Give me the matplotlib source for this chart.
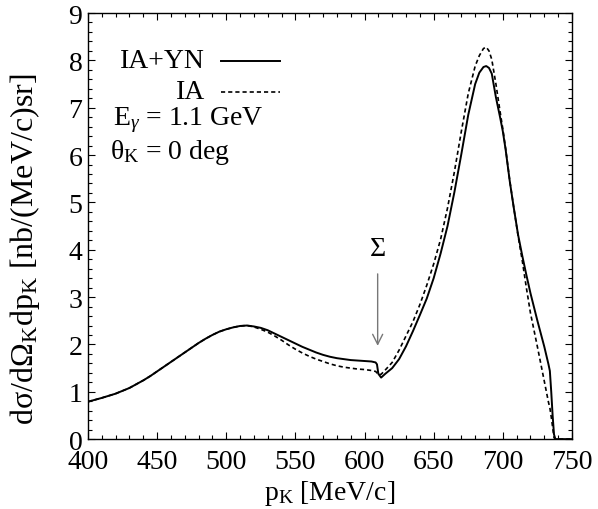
import matplotlib
matplotlib.use("Agg")
import matplotlib.pyplot as plt
from matplotlib.ticker import MultipleLocator
from matplotlib.lines import Line2D

# --------------------------------------------------------
# DATA
# --------------------------------------------------------
p_k = [400, 405, 410, 415, 420, 425, 430, 435, 440, 445, 450, 455, 460, 465,
       470, 475, 480, 485, 490, 495, 500, 505, 510, 515, 520, 525, 530, 535,
       540, 545, 550, 555, 560, 565, 570, 575, 580, 585, 590, 595, 600, 605,
       608, 609, 610, 612, 615, 620, 625, 630, 635, 640, 645, 650, 655, 660,
       665, 670, 675, 680, 683, 686, 688, 690, 692, 695, 698, 700, 702, 705,
       708, 711, 714, 717, 720, 725, 730, 733, 734, 735, 736, 737, 738, 750]

ia_yn = [0.79, 0.83, 0.87, 0.915, 0.96, 1.02, 1.08, 1.16, 1.24, 1.33, 1.43, 1.53, 1.63, 1.73,
         1.83, 1.93, 2.03, 2.12, 2.20, 2.27, 2.32, 2.36, 2.39, 2.40, 2.38, 2.35, 2.30, 2.23,
         2.16, 2.09, 2.02, 1.95, 1.89, 1.83, 1.78, 1.74, 1.71, 1.69, 1.67, 1.66, 1.65, 1.64,
         1.62, 1.58, 1.38, 1.30, 1.38, 1.50, 1.69, 1.96, 2.28, 2.62, 2.97, 3.40, 3.92, 4.50,
         5.22, 6.02, 6.85, 7.50, 7.74, 7.86, 7.88, 7.84, 7.72, 7.22, 6.80, 6.50, 6.12, 5.45,
         4.87, 4.32, 3.88, 3.47, 3.08, 2.50, 1.95, 1.58, 1.44, 1.00, 0.50, 0.10, 0.0, 0.0]

ia = [0.79, 0.83, 0.87, 0.915, 0.96, 1.02, 1.08, 1.16, 1.24, 1.33, 1.43, 1.53, 1.63, 1.73,
      1.83, 1.93, 2.03, 2.12, 2.20, 2.27, 2.32, 2.36, 2.39, 2.40, 2.37, 2.32, 2.26, 2.18,
      2.09, 1.99, 1.90, 1.82, 1.75, 1.69, 1.64, 1.59, 1.55, 1.52, 1.50, 1.48, 1.47, 1.45,
      1.43, 1.40, 1.36, 1.37, 1.46, 1.62, 1.88, 2.18, 2.48, 2.84, 3.25, 3.70, 4.22, 4.88,
      5.65, 6.50, 7.30, 7.88, 8.10, 8.25, 8.28, 8.20, 8.02, 7.50, 6.92, 6.55, 6.14, 5.46,
      4.87, 4.30, 3.78, 3.20, 2.66, 1.95, 1.22, 0.78, 0.66, 0.47, 0.25, 0.03, 0.0, 0.0]

legend_labels = ["IA+YN", "IA"]
info_lines = [r"E$_{\gamma}$ = 1.1 GeV", r"θ$_{\rm K}$ = 0 deg"]
sigma_x = 609.5

# --------------------------------------------------------
# STYLE
# --------------------------------------------------------
plt.rcParams["font.family"] = ["Liberation Serif", "DejaVu Serif"]
plt.rcParams["mathtext.fontset"] = "custom"
plt.rcParams["mathtext.rm"] = "Liberation Serif"
plt.rcParams["mathtext.it"] = "Liberation Serif:italic"
FS = 20
plt.rcParams["font.size"] = FS

fig = plt.figure(figsize=(5.98, 5.10), dpi=100)
ax = fig.add_axes([0.147, 0.137, 0.8095, 0.8355])

ax.plot(p_k, ia_yn, color="black", lw=1.4, solid_joinstyle="round")
ax.plot(p_k, ia, color="black", lw=1.2, dashes=(2.5, 1.8))

ax.set_xlim(400, 750)
ax.set_ylim(0, 9)
ax.xaxis.set_major_locator(MultipleLocator(50))
ax.xaxis.set_minor_locator(MultipleLocator(10))
ax.yaxis.set_major_locator(MultipleLocator(1))
ax.yaxis.set_minor_locator(MultipleLocator(0.2))
ax.tick_params(which="both", direction="in", top=True, right=True, labelsize=FS)
ax.tick_params(which="major", length=5, width=0.8, pad=4)
ax.tick_params(which="minor", length=3, width=0.8)
ax.tick_params(axis="x", which="major", pad=7)
for s in ax.spines.values():
    s.set_linewidth(1.0)

ax.set_xlabel(r"p$_{\rm K}$ [MeV/c]", fontsize=FS, va="center")
ax.xaxis.set_label_coords(0.5, -0.125)
ax.set_ylabel(r"dσ/dΩ$_{\rm K}$dp$_{\rm K}$ [nb/(MeV/c)sr]", fontsize=23, va="center", ha="center")
ax.yaxis.set_label_coords(-0.13, 0.448)

# --------------------------------------------------------
# LEGEND (gnuplot style: text right-aligned, sample on the right)
# --------------------------------------------------------
styles = [dict(lw=1.4), dict(lw=1.2, dashes=(2.5, 1.8))]
for i, (lab, style) in enumerate(zip(legend_labels, styles)):
    yy = 0.888 - i * 0.073
    ax.text(0.242, yy, lab, transform=ax.transAxes, ha="right", va="center", fontsize=FS)
    ax.add_line(Line2D([0.275, 0.397], [yy, yy], transform=ax.transAxes, color="black", **style))

ax.text(0.052, 0.751, info_lines[0], transform=ax.transAxes, ha="left", va="center", fontsize=FS)
ax.text(0.046, 0.676, info_lines[1], transform=ax.transAxes, ha="left", va="center", fontsize=FS)

# --------------------------------------------------------
# SIGMA THRESHOLD ARROW
# --------------------------------------------------------
ax.text(sigma_x, 4.02, "Σ", ha="center", va="center", fontsize=FS)
ax.annotate("", xy=(sigma_x, 1.97), xytext=(sigma_x, 3.49),
            arrowprops=dict(arrowstyle="->", color="#777777", lw=1.0,
                            mutation_scale=18, shrinkA=0, shrinkB=0))

fig.savefig("out.png", dpi=100)
